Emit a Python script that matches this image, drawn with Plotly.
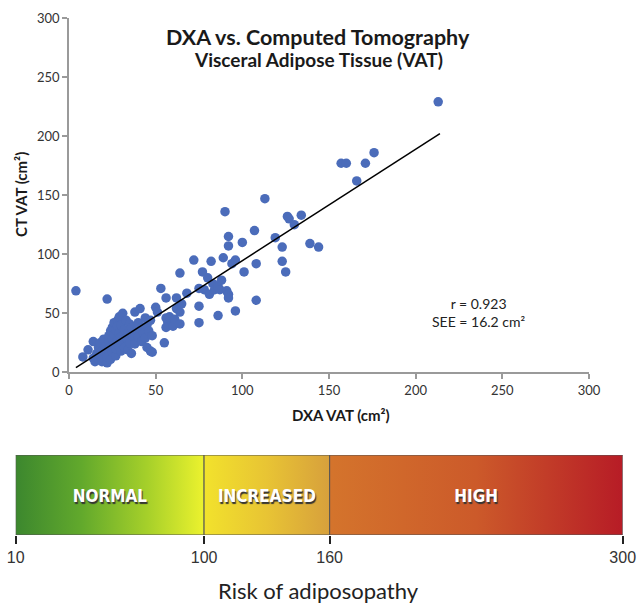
import plotly.graph_objects as go

# ---------------- data ----------------
dxa_vat = [4, 22,
           8, 11, 14, 14, 15, 16, 17, 17, 18, 18, 19, 19, 20, 20, 21, 21, 22, 22,
           23, 23, 23, 24, 24, 24, 25, 25, 25, 26, 26, 26, 27, 27, 27, 28, 28, 28,
           29, 29, 29, 30, 30, 30, 31, 31, 32, 32, 33, 33, 34, 34, 35, 35, 36, 36,
           37, 38, 38, 39, 40, 40, 41, 42, 42, 43, 44, 44, 45, 45, 46, 47, 47, 48, 48,
           50, 51, 53, 55, 56, 56, 57, 56, 58, 60, 61, 62, 62, 64, 64, 64, 65, 68,
           72, 75, 75, 75, 77, 78, 80, 81, 82, 83, 84, 86, 86, 87, 88, 89, 90, 91,
           92, 92, 92, 92, 94, 96, 96, 100, 101, 107, 108, 108, 113, 119, 123, 123,
           125, 126, 127, 130, 134, 139, 144, 157, 160, 171, 176, 166, 213]
ct_vat = [69, 62,
          13, 19, 26, 12, 9, 16, 21, 11, 25, 14, 9, 18, 28, 12, 22, 16, 8, 13,
          19, 26, 31, 11, 35, 22, 17, 38, 28, 24, 32, 42, 14, 36, 20, 27, 44, 39,
          22, 33, 47, 18, 30, 40, 50, 25, 36, 21, 44, 29, 19, 33, 25, 41, 38, 16,
          30, 51, 24, 35, 42, 30, 54, 26, 38, 33, 46, 29, 40, 21, 35, 18, 44, 31, 17,
          55, 51, 71, 25, 63, 46, 42, 38, 47, 39, 45, 63, 54, 51, 41, 84, 58, 67,
          95, 42, 56, 71, 85, 70, 80, 66, 94, 75, 70, 73, 48, 70, 78, 97, 136, 69,
          66, 63, 115, 107, 92, 95, 52, 110, 85, 120, 92, 61, 147, 114, 106, 94,
          85, 132, 130, 125, 133, 109, 106, 177, 177, 177, 186, 162, 229]

fit_x = [4, 214]
fit_y = [4, 202]

axis_ticks = [0, 50, 100, 150, 200, 250, 300]

stats_lines = ["r = 0.923", "SEE = 16.2 cm²"]

risk_bounds = [10, 100, 160, 300]
risk_labels = ["NORMAL", "INCREASED", "HIGH"]
risk_colorscales = [
    [[0, "#3c872e"], [0.35, "#62a92c"], [0.7, "#a6d02a"], [1, "#ecf22e"]],
    [[0, "#f2e22c"], [0.5, "#e8c434"], [1, "#d7a03c"]],
    [[0, "#d4742c"], [0.5, "#cc5a2a"], [1, "#b71c26"]],
]

# ---------------- layout helpers ----------------
W, H = 638, 606


def fx(p):
    return p / W


def fy(p):
    return 1 - p / H


FONT = "Lato"

fig = go.Figure()

fig.add_trace(go.Scatter(
    x=dxa_vat, y=ct_vat, mode="markers",
    marker=dict(size=9.5, color="#4b6cba"),
    xaxis="x", yaxis="y", hoverinfo="skip", showlegend=False))

fig.add_trace(go.Scatter(
    x=fit_x, y=fit_y, mode="lines",
    line=dict(color="black", width=1.5),
    xaxis="x", yaxis="y", hoverinfo="skip", showlegend=False))

for i, lab in enumerate(risk_labels):
    x0, x1 = risk_bounds[i], risk_bounds[i + 1]
    fig.add_trace(go.Scatter(
        x=[x0, x1, x1, x0, x0], y=[0, 0, 1, 1, 0],
        mode="lines", fill="toself",
        fillgradient=dict(type="horizontal", colorscale=risk_colorscales[i]),
        line=dict(color="#555555", width=1),
        xaxis="x2", yaxis="y2", hoverinfo="skip", showlegend=False))
    fig.add_trace(go.Scatter(
        x=[(x0 + x1) / 2], y=[0.47], mode="text", text=[lab],
        textfont=dict(family="DejaVu Sans Condensed", size=17, color="white",
                      weight="bold", shadow="1px 2px 1px #333333"),
        xaxis="x2", yaxis="y2", hoverinfo="skip", showlegend=False))

axis_common = dict(
    showgrid=False, zeroline=False, showline=True,
    linecolor="#9a9a9a", linewidth=1.5,
    ticks="outside", ticklen=5, tickcolor="#9a9a9a", tickwidth=1.5,
    tickfont=dict(family=FONT, size=13, color="#333333"),
    automargin=False,
)

fig.update_layout(
    width=W, height=H,
    margin=dict(l=0, r=0, t=0, b=0, autoexpand=False),
    paper_bgcolor="white", plot_bgcolor="white",
    showlegend=False,
    xaxis=dict(domain=[fx(69), fx(589)], range=[0, 300], tickvals=axis_ticks,
               anchor="y", **axis_common),
    yaxis=dict(domain=[fy(372.3), fy(18)], range=[0, 300], tickvals=axis_ticks,
               anchor="x", **axis_common),
    xaxis2=dict(domain=[fx(15.7), fx(622.7)], range=[risk_bounds[0], risk_bounds[-1]],
                tickvals=risk_bounds, anchor="y2", automargin=False,
                showgrid=False, zeroline=False, showline=False,
                ticks="outside", ticklen=8, tickcolor="#222222", tickwidth=1.5,
                tickfont=dict(family="Liberation Sans", size=16, color="#333333")),
    yaxis2=dict(domain=[fy(535), fy(455)], range=[0, 1], visible=False, anchor="x2"),
)

annotations = [
    dict(text="<b>DXA vs. Computed Tomography</b>", x=fx(318), y=fy(37),
         font=dict(family=FONT, size=21.5, color="#1a1a1a")),
    dict(text="<b>Visceral Adipose Tissue (VAT)</b>", x=fx(318), y=fy(60),
         font=dict(family=FONT, size=19, color="#1a1a1a")),
    dict(text="<b>DXA VAT (cm²)</b>", x=fx(341), y=fy(415),
         font=dict(family=FONT, size=15, color="#1a1a1a")),
    dict(text="<b>CT VAT (cm²)</b>", x=fx(21), y=fy(195), textangle=-90,
         font=dict(family=FONT, size=15, color="#1a1a1a")),
    dict(text="<br>".join(stats_lines), x=fx(479), y=fy(312),
         font=dict(family=FONT, size=14, color="#222222")),
]
for a in annotations:
    a.update(xanchor="center", yanchor="middle")
annotations.append(
    dict(text="Risk of adiposopathy", x=fx(318), y=fy(606),
         xanchor="center", yanchor="bottom",
         font=dict(family=FONT, size=22, color="#222222")))
for a in annotations:
    a.update(xref="paper", yref="paper", showarrow=False)
fig.update_layout(annotations=annotations)

fig.write_html("out.html")
